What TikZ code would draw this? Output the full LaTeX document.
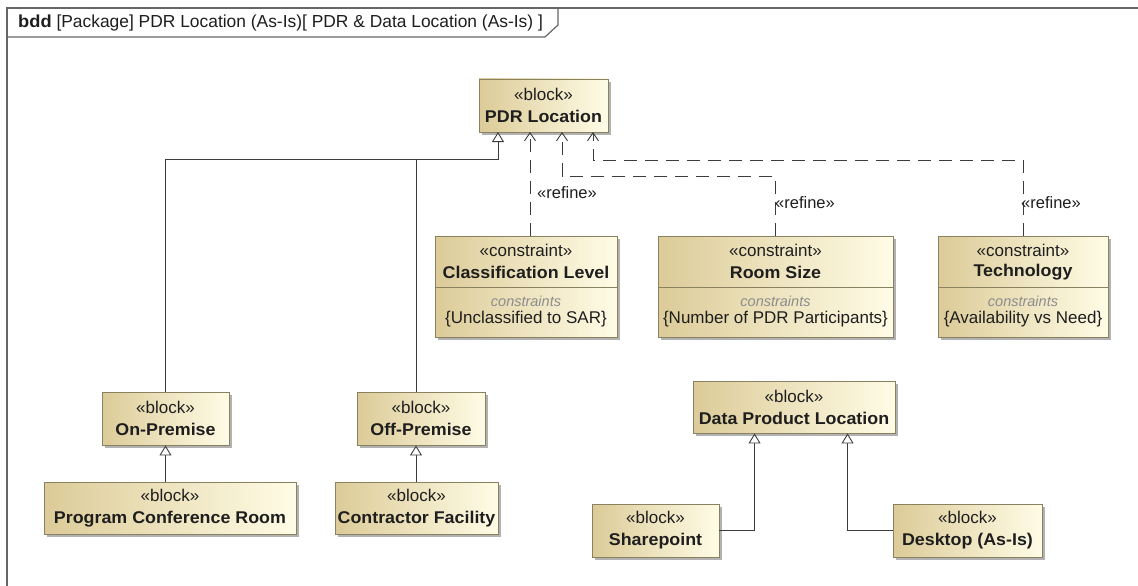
\documentclass[tikz,border=0pt]{standalone}
\usepackage{fontspec}
\setmainfont{Liberation Sans}[BoldFeatures={FakeStretch=1.05}]
\usetikzlibrary{arrows.meta,shadows,calc}
\definecolor{blkL}{HTML}{DCCB98}
\definecolor{blkR}{HTML}{FFFCE6}
\definecolor{blkD}{HTML}{8A8160}
\definecolor{lineC}{HTML}{3C3C3C}
\definecolor{frameC}{HTML}{666666}
\definecolor{txtC}{HTML}{1E1E1E}
\definecolor{grayT}{HTML}{8C8C8C}
\begin{document}
\begin{tikzpicture}[x=1pt,y=-1pt,
  box/.style={draw=blkD, line width=0.9pt, left color=blkL, right color=blkR, rectangle, inner sep=0pt,
    drop shadow={shadow xshift=3pt, shadow yshift=-3pt, fill=black, opacity=0.3}},
  blockbox/.style={box, align=center, font=\fontsize{17}{21}\selectfont, text=txtC},
  stereo/.style={font=\fontsize{17}{19}\selectfont, text=txtC, inner sep=0pt},
  nametxt/.style={font=\fontsize{17}{19}\selectfont\bfseries, text=txtC, inner sep=0pt},
  italtxt/.style={font=\fontsize{14.5}{16}\selectfont\itshape, text=grayT, inner sep=0pt},
  valtxt/.style={font=\fontsize{17}{19}\selectfont, text=txtC, inner sep=0pt},
  gen/.style={draw=lineC, line width=0.9pt, -{Triangle[open,length=10pt,width=12pt,fill=white]}},
  genline/.style={draw=lineC, line width=0.9pt},
  refine/.style={draw=lineC, line width=0.9pt, dash pattern=on 13pt off 8pt, -{Straight Barb[length=8pt,width=11pt]}},
  reflabel/.style={font=\fontsize{16.5}{19}\selectfont, text=txtC, anchor=west, inner sep=0pt}
]
\useasboundingbox (0,0) rectangle (1138,586);
\fill[white] (0,0) rectangle (1138,586);

% frame
\draw[frameC, line width=1.2pt] (7,586) -- (7,8) -- (1138,8);
\draw[frameC, line width=1.2pt] (7,37) -- (545,37) -- (558,25) -- (558,8);
\node[anchor=west, font=\fontsize{17.4}{19}\selectfont, text=txtC, inner sep=0pt] (hdr) at (18,23)
  {\textbf{bdd} [Package] PDR Location (As-Is)[ PDR \& Data Location (As-Is) ]};

% blocks
\node[blockbox, minimum width=129pt, minimum height=53pt] (pdr) at (543.5,105.5) {«block»\\[1pt]\textbf{PDR Location}};
\node[blockbox, minimum width=127pt, minimum height=53pt] (onp) at (165.5,418.5) {«block»\\[1pt]\textbf{On-Premise}};
\node[blockbox, minimum width=128pt, minimum height=53pt] (offp) at (421,418.5) {«block»\\[1pt]\textbf{Off-Premise}};
\node[blockbox, minimum width=252pt, minimum height=52pt] (pcr) at (170,508) {«block»\\[1pt]\textbf{Program Conference Room}};
\node[blockbox, minimum width=163pt, minimum height=52pt] (cf) at (416.5,508) {«block»\\[1pt]\textbf{Contractor Facility}};
\node[blockbox, minimum width=202pt, minimum height=52pt] (dpl) at (794,407) {«block»\\[1pt]\textbf{Data Product Location}};
\node[blockbox, minimum width=127pt, minimum height=53pt] (sp) at (655.5,530.5) {«block»\\[1pt]\textbf{Sharepoint}};
\node[blockbox, minimum width=149pt, minimum height=53pt] (desk) at (967.5,530.5) {«block»\\[1pt]\textbf{Desktop (As-Is)}};

% constraint blocks
\node[box, minimum width=182pt, minimum height=101pt] (cl) at (526,286.5) {};
\node[box, minimum width=235pt, minimum height=101pt] (rs) at (775.5,286.5) {};
\node[box, minimum width=170pt, minimum height=101pt] (tech) at (1023,286.5) {};
\foreach \n in {cl,rs,tech}{
  \draw[blkD, line width=0.9pt] ($(\n.north west)+(0,52)$) -- ($(\n.north east)+(0,52)$);
}
\node[stereo] (cl-st) at (526,250) {«constraint»};
\node[nametxt] (cl-nm) at (526,272) {Classification Level};
\node[italtxt] (cl-ct) at (526,301) {constraints};
\node[valtxt] (cl-v) at (526,319) {\{Unclassified to SAR\}};
\node[stereo] (rs-st) at (775.5,250) {«constraint»};
\node[nametxt] (rs-nm) at (775.5,272) {Room Size};
\node[italtxt] (rs-ct) at (775.5,301) {constraints};
\node[valtxt] (rs-v) at (775.5,319) {\{Number of PDR Participants\}};
\node[stereo] (tech-st) at (1023,250) {«constraint»};
\node[nametxt] (tech-nm) at (1023,272) {Technology};
\node[italtxt] (tech-ct) at (1023,301) {constraints};
\node[valtxt] (tech-v) at (1023,319) {\{Availability vs Need\}};

% generalizations to PDR Location
\coordinate (g1) at (498,132);
\coordinate (j1) at (498,159);
\coordinate (j0) at (416,159);
\draw[gen] (onp.north) |- (j1) -- (g1);
\draw[genline] (offp.north -| j0) -- (j0);
\draw[gen] (pcr.north -| onp.south) -- (onp.south);
\draw[gen] (cf.north -| j0) -- (offp.south -| j0);

% generalizations to Data Product Location
\coordinate (d1) at ($(dpl.south west)+(62,0)$);
\coordinate (d2) at ($(dpl.south west)+(155,0)$);
\draw[gen] (sp.east) -| (d1);
\draw[gen] (desk.west) -| (d2);

% refine dependencies
\coordinate (r1) at (530,132);
\coordinate (r2) at (562,132);
\coordinate (r3) at (593,132);
\coordinate (b2) at (562,176);
\coordinate (b3) at (593,160);
\draw[refine] (cl.north -| r1) -- (r1);
\draw[refine] (rs.north) |- (b2) -- (r2);
\draw[refine] (tech.north) |- (b3) -- (r3);
\node[reflabel] (l1) at (537,193) {«refine»};
\node[reflabel] (l2) at (775,203) {«refine»};
\node[reflabel] (l3) at (1021,203) {«refine»};
\end{tikzpicture}
\end{document}
